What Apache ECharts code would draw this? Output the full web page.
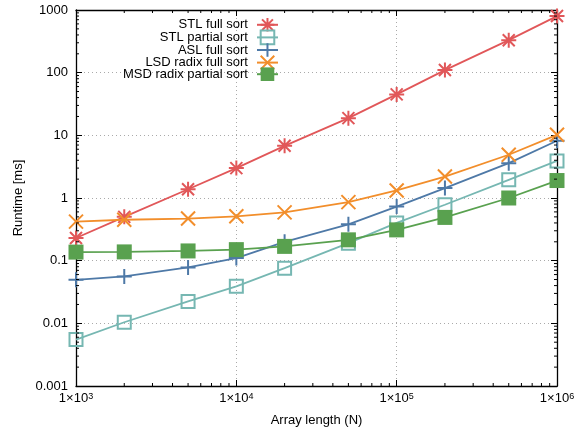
<!DOCTYPE html>
<html>
<head>
<meta charset="utf-8">
<script src="https://cdn.jsdelivr.net/npm/echarts@6/dist/echarts.min.js"></script>
<style>
  html, body { margin: 0; padding: 0; background: #fff; }
  #chart { width: 584px; height: 432px; }
</style>
</head>
<body>
<div id="chart"></div>
<script>
// array lengths (N)
const lengths = [1e3, 2e3, 5e3, 1e4, 2e4, 5e4, 1e5, 2e5, 5e5, 1e6];
// runtimes in ms
const stlFull    = [0.23, 0.5, 1.38, 3.0, 6.8, 18.8, 45, 110, 330, 800];
const stlPartial = [0.0055, 0.0104, 0.0224, 0.039, 0.076, 0.19, 0.40, 0.78, 1.95, 3.9];
const aslFull    = [0.0495, 0.056, 0.078, 0.11, 0.20, 0.38, 0.73, 1.44, 3.6, 8.2];
const lsdFull    = [0.42, 0.45, 0.47, 0.51, 0.59, 0.86, 1.32, 2.2, 4.9, 10.2];
const msdPartial = [0.137, 0.138, 0.143, 0.15, 0.169, 0.215, 0.31, 0.49, 1.0, 1.9];

const names = ['STL full sort', 'STL partial sort', 'ASL full sort', 'LSD radix full sort', 'MSD radix partial sort'];
const colors = ['#e15759', '#76b7b2', '#4e79a7', '#f28e2b', '#59a14f'];

const asterisk = 'path://M0,0L16,16M0,16L16,0M8,-2L8,18M-2,8L18,8';
const plus = 'path://M8,0L8,16M0,8L16,8';
const cross = 'path://M0,0L16,16M0,16L16,0';
const square = 'path://M0,0L16,0L16,16L0,16Z';

const pairs = ys => lengths.map((x, i) => [x, ys[i]]);

function lineSeries(i, ys, symbol, size, filled) {
  return {
    name: names[i],
    type: 'line',
    data: pairs(ys),
    symbol: symbol,
    symbolSize: size,
    symbolKeepAspect: true,
    showAllSymbol: true,
    color: colors[i],
    lineStyle: { color: colors[i], width: 1.8 },
    itemStyle: filled
      ? { color: colors[i], borderColor: colors[i], borderWidth: 0 }
      : { color: 'rgba(0,0,0,0)', borderColor: colors[i], borderWidth: 2 },
    emphasis: { disabled: true },
    z: 3 + i
  };
}

const font = 'Liberation Sans, Arial, Helvetica, sans-serif';
const xTicks = v => '1×10{s|' + Math.round(Math.log10(v)) + '}';
const yTicks = v => {
  const e = Math.round(Math.log10(v));
  return e >= 0 ? String(Math.pow(10, e)) : Math.pow(10, e).toFixed(-e);
};

const gridSplit = { show: true, lineStyle: { color: '#aaa', type: [1, 3], width: 1 } };
const frame = { lineStyle: { color: '#000', width: 1.3 } };

const myChart = echarts.init(document.getElementById('chart'));
const option = {
  animation: false,
  backgroundColor: '#fff',
  textStyle: { fontFamily: font },
  grid: { left: 76, right: 27, top: 10, bottom: 45 },
  legend: {
    orient: 'vertical',
    left: 118,
    top: 12,
    align: 'right',
    itemWidth: 21,
    itemHeight: 17,
    itemGap: -3,
    textStyle: { fontSize: 13, color: '#000', fontFamily: font, width: 128, align: 'right', padding: [0, 4, 0, 0] },
    data: names
  },
  xAxis: [{
    type: 'log',
    logBase: 10,
    min: 1e3,
    max: 1e6,
    splitNumber: 3,
    name: 'Array length (N)',
    nameLocation: 'middle',
    nameGap: 28,
    nameTextStyle: { fontSize: 13, color: '#000' },
    axisLine: frame,
    axisTick: { inside: true, length: 6, lineStyle: { color: '#000' } },
    axisLabel: {
      formatter: xTicks,
      color: '#000',
      fontSize: 13,
      margin: 6,
      showMinLabel: true,
      showMaxLabel: true,
      rich: { s: { fontSize: 9, verticalAlign: 'top', lineHeight: 8, color: '#000' } }
    },
    splitLine: gridSplit
  }, {
    type: 'log',
    logBase: 10,
    min: 1e3,
    max: 1e6,
    splitNumber: 3,
    position: 'top',
    axisLine: frame,
    axisTick: { inside: true, length: 6, lineStyle: { color: '#000' } },
    axisLabel: { show: false },
    splitLine: { show: false }
  }],
  yAxis: [{
    type: 'log',
    logBase: 10,
    min: 0.001,
    max: 1000,
    splitNumber: 6,
    name: 'Runtime [ms]',
    nameLocation: 'middle',
    nameGap: 49,
    nameTextStyle: { fontSize: 13, color: '#000' },
    axisLine: frame,
    axisTick: { inside: true, length: 6, lineStyle: { color: '#000' } },
    axisLabel: { formatter: yTicks, color: '#000', fontSize: 13, margin: 8 },
    splitLine: gridSplit
  }, {
    type: 'log',
    logBase: 10,
    min: 0.001,
    max: 1000,
    splitNumber: 6,
    position: 'right',
    axisLine: frame,
    axisTick: { inside: true, length: 6, lineStyle: { color: '#000' } },
    axisLabel: { show: false },
    splitLine: { show: false }
  }],
  series: [
    lineSeries(0, stlFull, asterisk, 15, false),
    lineSeries(1, stlPartial, square, 13, false),
    lineSeries(2, aslFull, plus, 15, false),
    lineSeries(3, lsdFull, cross, 14, false),
    lineSeries(4, msdPartial, square, 15, true)
  ]
};
myChart.setOption(option);

// real log minor ticks (2..9 per decade) on all four sides
function minorTicks() {
  const els = [];
  const r = myChart.getModel().getComponent('grid', 0).coordinateSystem.getRect();
  const len = 3;
  const tick = (x1, y1, x2, y2) => ({ type: 'line', silent: true, z: 10, shape: { x1, y1, x2, y2 }, style: { stroke: '#000', lineWidth: 1 } });
  for (let d = 3; d < 6; d++) {
    for (let k = 2; k <= 9; k++) {
      const px = myChart.convertToPixel({ xAxisIndex: 0 }, k * Math.pow(10, d));
      els.push(tick(px, r.y + r.height, px, r.y + r.height - len));
      els.push(tick(px, r.y, px, r.y + len));
    }
  }
  for (let d = -3; d < 3; d++) {
    for (let k = 2; k <= 9; k++) {
      const py = myChart.convertToPixel({ yAxisIndex: 0 }, k * Math.pow(10, d));
      els.push(tick(r.x, py, r.x + len, py));
      els.push(tick(r.x + r.width, py, r.x + r.width - len, py));
    }
  }
  return els;
}
myChart.setOption({ graphic: minorTicks() });
</script>
</body>
</html>
